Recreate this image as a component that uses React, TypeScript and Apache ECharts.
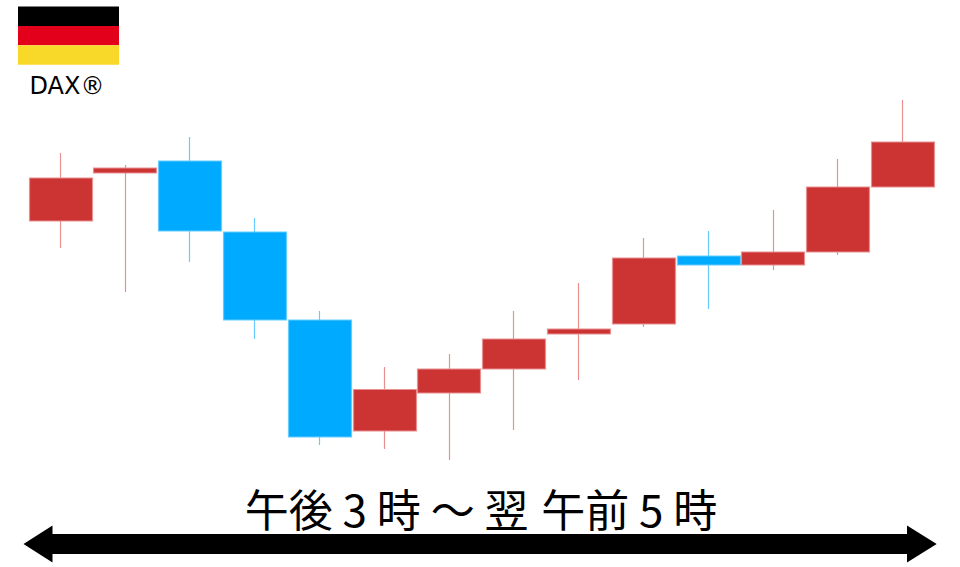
import React, { useEffect, useRef } from "react";
import * as echarts from "echarts";

const categories = ["1", "2", "3", "4", "5", "6", "7", "8", "9", "10", "11", "12", "13", "14"];
const opens = [346, 394, 406, 335, 247, 136, 174, 198, 233, 243, 311, 302, 315, 380];
const closes = [389, 399, 336, 247, 130, 177.5, 198, 228, 238, 309, 302, 315, 380, 425];
const lows = [319, 275, 305, 228, 122, 118, 107, 137, 187, 240, 258, 297, 312, 380];
const highs = [414, 402, 430, 349, 256, 200, 213, 256, 284, 329, 336, 357, 408, 467];
const flagColors = ["#000000", "#E2001A", "#F8D92A"];
const labelText = "DAX®";
const rangeText = "午後 3 時 ～ 翌 \u200a午前 5 時";

export default function App() {
  const ref = useRef<HTMLDivElement>(null);
  useEffect(() => {
    const chart = echarts.init(ref.current!, undefined, { renderer: "svg" });
    const W = 960;
    const arrowY = 544;
    chart.setOption({
      animation: false,
      backgroundColor: "#ffffff",
      grid: { left: 28.1, width: 907.2, top: 0, height: 567.6 },
      xAxis: { type: "category", data: categories, show: false },
      yAxis: { type: "value", min: 0, max: 567, show: false },
      series: [
        {
          type: "candlestick",
          data: categories.map((_, i) => [opens[i], closes[i], lows[i], highs[i]]),
          barWidth: 63.5,
          itemStyle: {
            color: "#CC3333",
            color0: "#00AAFF",
            borderColor: "#E88F8F",
            borderColor0: "#66CCFF",
            borderWidth: 1.2,
          },
        },
      ],
      graphic: [
        ...flagColors.map((fill, i) => ({
          type: "rect",
          shape: { x: 18, y: 6.5 + i * 19.4, width: 101, height: 19.4 },
          style: { fill },
        })),
        {
          type: "text",
          style: {
            x: 67,
            y: 86,
            text: labelText,
            fill: "#000",
            font: '24px "DejaVu Sans"',
            align: "center",
            verticalAlign: "middle",
          },
        },
        {
          type: "text",
          style: {
            x: 481,
            y: 508,
            text: rangeText,
            fill: "#000",
            font: '44px "Noto Sans CJK JP"',
            align: "center",
            verticalAlign: "middle",
          },
        },
        {
          type: "polygon",
          shape: {
            points: [
              [23.5, arrowY],
              [52.5, 525.5],
              [52.5, 534],
              [907, 534],
              [907, 525.5],
              [W - 23.3, arrowY],
              [907, 562.5],
              [907, 554],
              [52.5, 554],
              [52.5, 562.5],
            ],
          },
          style: { fill: "#000" },
        },
      ],
    });
    return () => chart.dispose();
  }, []);
  return <div ref={ref} style={{ position: "absolute", left: 0, top: 0, width: 960, height: 567 }} />;
}
